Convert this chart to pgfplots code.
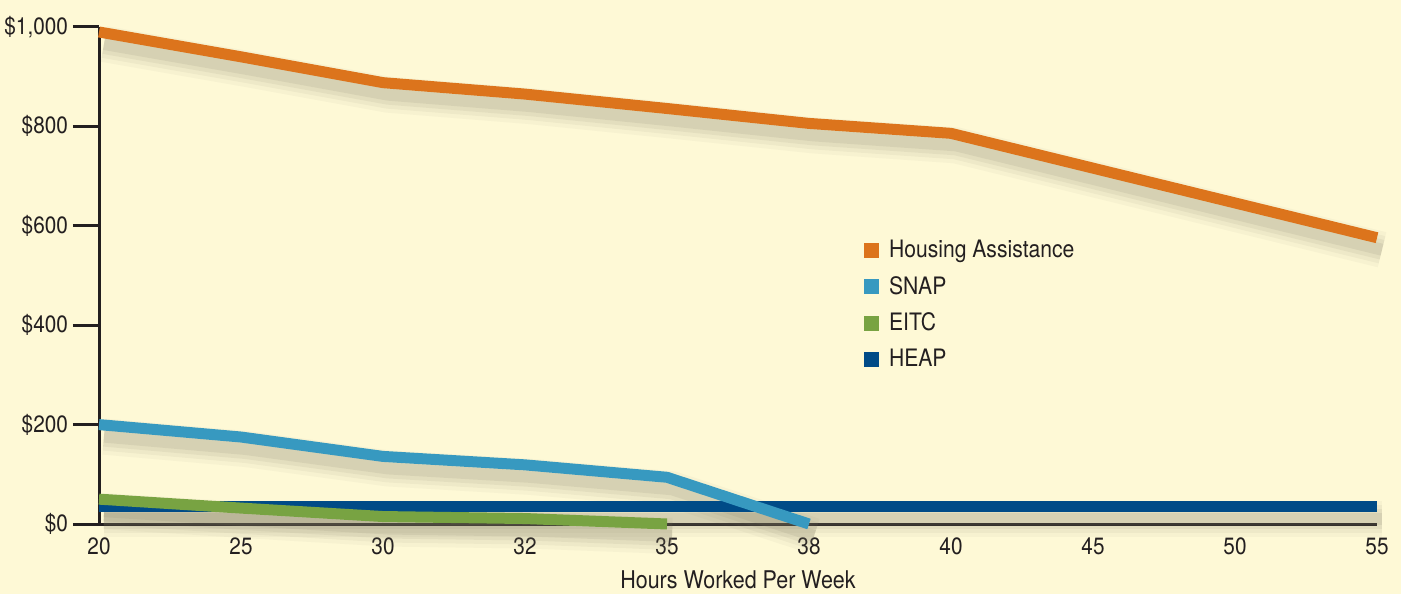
\documentclass[border=0pt]{standalone}
\usepackage{pgfplots}
\pgfplotsset{compat=1.18}
\usepackage{fontspec}
\setmainfont{TeX Gyre Heros}[FakeStretch=0.88]

\definecolor{bg}{HTML}{FEF9D6}
\definecolor{axisc}{HTML}{231F20}
\definecolor{housing}{HTML}{DC741C}
\definecolor{snap}{HTML}{3799C0}
\definecolor{eitc}{HTML}{78A342}
\definecolor{heap}{HTML}{004B87}
\definecolor{shade}{HTML}{7E7964}

\pgfplotstableread{
x hours housing snap eitc heap
0 20 990 200 50 35
1 25 940 175 32 35
2 30 888 136 15 35
3 32 865 119 11 35
4 35 836 94 0 35
5 38 806 0 nan 35
6 40 786 nan nan 35
7 45 716 nan nan 35
8 50 646 nan nan 35
9 55 576 nan nan 35
}\datatable

\pgfplotsset{
  shadow/.style 2 args={draw=shade, line width=#1, opacity=#2, xshift=2.5pt, yshift=-6pt,
    forget plot, line join=round},
  series/.style={draw=#1, line width=5.5pt, line join=round, line cap=butt,
    legend image code/.code={\fill[#1, draw=none] (0pt,-3.8pt) rectangle (7.6pt,3.8pt);
      \path[draw=none] (0pt,0pt) -- (10.5pt,0pt);}},
}

\begin{document}
\begin{tikzpicture}
\fill[bg] (0,0) rectangle (700.5pt,297pt);
\path[use as bounding box] (0,0) rectangle (700.5pt,297pt);
\begin{axis}[
  at={(49.5pt,35pt)}, anchor=south west,
  scale only axis, width=639pt, height=248.5pt,
  xmin=0, xmax=9, ymin=0, ymax=1000,
  clip=false,
  axis lines*=left,
  axis line style={draw=axisc, line width=1.5pt, -},
  xtick={0,...,9},
  xticklabels={20,25,30,32,35,38,40,45,50,55},
  ytick={0,200,400,600,800,1000},
  yticklabels={\$0,\$200,\$400,\$600,\$800,{\$1,000}},
  tick align=outside,
  x tick style={draw=none},
  y tick style={draw=axisc, line width=1.5pt},
  major tick length=13pt,
  ticklabel style={font=\fontsize{11.8}{13}\selectfont, text=axisc},
  xticklabel style={yshift=9.5pt},
  yticklabel style={xshift=1pt},
  xlabel={Hours Worked Per Week},
  xlabel style={font=\fontsize{12.2}{14}\selectfont, text=axisc, yshift=-1pt},
  unbounded coords=jump,
  legend style={at={(axis cs:5.385,588)}, anchor=north west, draw=none, fill=none,
    font=\fontsize{12}{14}\selectfont, text=axisc, row sep=3.8pt,
    legend cell align=left, inner xsep=0pt},
  legend columns=1,
  reverse legend,
]
% shadows first
\pgfplotsinvokeforeach{heap,eitc,snap,housing}{
  \addplot[shadow={18pt}{0.05}] table[x=x, y=#1] {\datatable};
  \addplot[shadow={14pt}{0.07}] table[x=x, y=#1] {\datatable};
  \addplot[shadow={10pt}{0.09}] table[x=x, y=#1] {\datatable};
  \addplot[shadow={6pt}{0.12}] table[x=x, y=#1] {\datatable};
}
\addplot[series=heap] table[x=x, y=heap] {\datatable};
\addlegendentry{HEAP}
\addplot[series=eitc] table[x=x, y=eitc] {\datatable};
\addlegendentry{EITC}
\addplot[series=snap] table[x=x, y=snap] {\datatable};
\addlegendentry{SNAP}
\addplot[series=housing] table[x=x, y=housing] {\datatable};
\addlegendentry{Housing Assistance}
\end{axis}
\end{tikzpicture}
\end{document}
